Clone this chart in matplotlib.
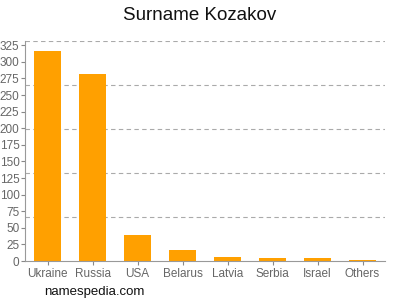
import matplotlib
matplotlib.use("Agg")
import matplotlib.pyplot as plt
import numpy as np

countries = ["Ukraine", "Russia", "USA", "Belarus", "Latvia", "Serbia", "Israel", "Others"]
counts = [317, 281, 39, 17, 6, 4, 4, 2]
yticks = list(range(0, 326, 25))
ymax = 331.25

plt.rcParams["font.family"] = ["Liberation Sans", "DejaVu Sans"]
fig = plt.figure(figsize=(4, 3), dpi=100)
ax = fig.add_axes([0.0625, 0.13, 0.9, 0.733])

x = np.arange(len(countries))
ax.bar(x, counts, width=0.62, color="#FFA000", zorder=2)
ax.set_xlim(-0.5, len(countries) - 0.5)
ax.set_ylim(0, ymax)
ax.set_yticks(yticks)
ax.set_xticks(x)
ax.set_xticklabels(countries)
for g in np.linspace(0, ymax, 6)[1:]:
    ax.axhline(g, color="#aaaaaa", ls=(0, (4, 3)), lw=0.8, zorder=1)

ax.tick_params(axis="both", colors="#888888", labelcolor="#666666", labelsize=8.5, length=3, width=0.8)
ax.tick_params(axis="x", pad=2)
ax.tick_params(axis="y", pad=1)
for s in ["top", "right"]:
    ax.spines[s].set_visible(False)
for s in ["left", "bottom"]:
    ax.spines[s].set_color("#999999")
    ax.spines[s].set_linewidth(0.8)

fig.text(0.5, 0.95, "Surname Kozakov", ha="center", va="center", fontsize=13.5, color="#111111")
fig.text(0.11, 0.025, "namespedia.com", ha="left", va="center", fontsize=9.5, color="#111111")

fig.savefig("out.png")
